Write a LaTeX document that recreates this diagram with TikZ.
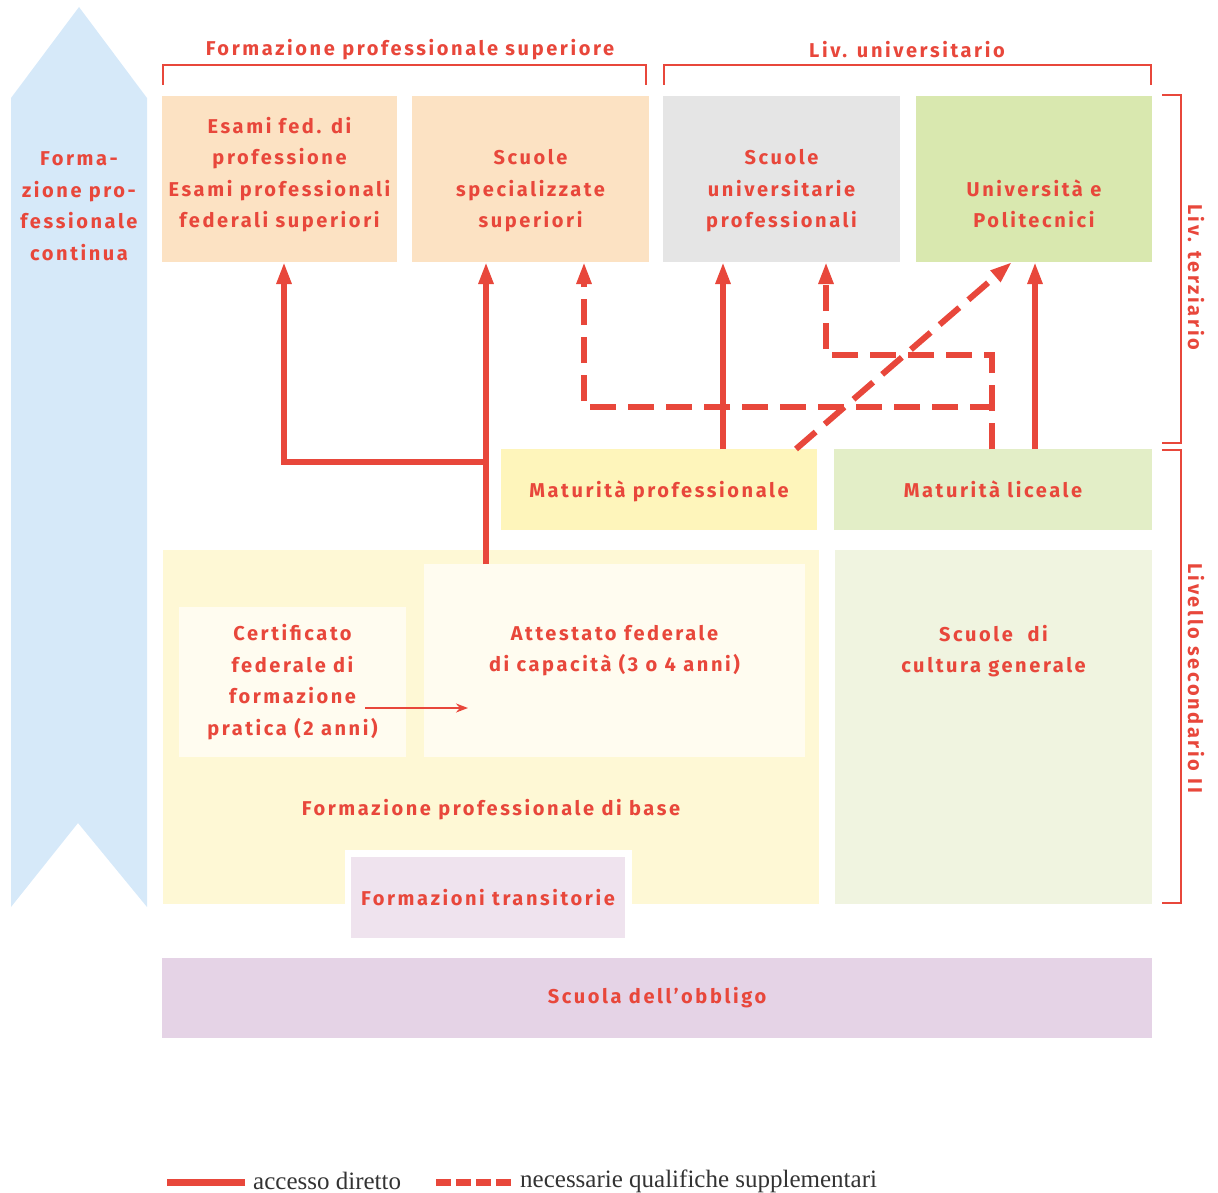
\documentclass[tikz,border=0pt]{standalone}
\usepackage{fontspec}
\setmainfont{Fira Sans}[LetterSpace=13]
\newfontfamily\legendfont{Liberation Serif}
\usetikzlibrary{positioning, arrows.meta}

\definecolor{linered}{HTML}{E8473B}
\definecolor{arrowblue}{HTML}{D6E9F9}
\definecolor{peach}{HTML}{FCE2C3}
\definecolor{unigray}{HTML}{E5E5E5}
\definecolor{unigreen}{HTML}{D9E8AF}
\definecolor{matyellow}{HTML}{FEF5BB}
\definecolor{matgreen}{HTML}{E3EEC7}
\definecolor{baseyellow}{HTML}{FEF8D5}
\definecolor{cream}{HTML}{FFFCF0}
\definecolor{palegreen}{HTML}{F0F4E0}
\definecolor{transpink}{HTML}{EFE3EE}
\definecolor{obbligo}{HTML}{E5D3E6}

\begin{document}
\begin{tikzpicture}
	[x=1pt, y=-1pt,
	 box/.style={inner sep=0pt, outer sep=0pt, anchor=north west, text=linered,
	   font=\bfseries\fontsize{20}{31.5}\selectfont, align=center},
	 lbl/.style={text=linered, font=\bfseries\fontsize{20}{31.5}\selectfont,
	   align=center, inner sep=0pt},
	 direct/.style={draw=linered, line width=6pt, -{Triangle[length=22pt,width=14pt]}},
	 extra/.style={direct, dash pattern=on 26pt off 12pt},
	 bracket/.style={draw=linered, line width=1.5pt}]
   \useasboundingbox (0,0) rectangle (1218,1193);
   \fill[arrowblue] (79,7) -- (147,98) -- (147,907) -- (78,823) -- (11,907) -- (11,98) -- cycle;
   \node[lbl] (contin) at (79,206) {Forma-\\zione pro-\\fessionale\\continua};

   \draw[bracket] (163,85) -- (163,65) -- (646,65) -- (646,85);
   \draw[bracket] (664,85) -- (664,65) -- (1151,65) -- (1151,85);
   \node[lbl] (fps) at (410,50) {Formazione professionale superiore};
   \node[lbl] (univ) at (907,50) {Liv. universitario};
   \draw[bracket] (1162,95) -- (1181,95) -- (1181,443) -- (1162,443);
   \draw[bracket] (1162,450) -- (1181,450) -- (1181,903) -- (1162,903);
   \node[lbl, rotate=-90] (terz) at (1196,277) {Liv. terziario};
   \node[lbl, rotate=-90] (sec) at (1196,678) {Livello secondario II};

   \node[box, fill=peach, minimum width=235pt, minimum height=166pt] (esami) at (162,96) {};
   \node[box, fill=peach, minimum width=237pt, minimum height=166pt] (spec) at (412,96) {};
   \node[box, fill=unigray, minimum width=237pt, minimum height=166pt] (sup) at (663,96) {};
   \node[box, fill=unigreen, minimum width=236pt, minimum height=166pt] (uni) at (916,96) {};
   \node[lbl, text depth=5pt, above=29pt of esami.south] (esamitxt) {Esami fed. di\\professione\\Esami professionali\\federali superiori};
   \node[lbl, text depth=5pt, above=29pt of spec.south] (spectxt) {Scuole\\specializzate\\superiori};
   \node[lbl, text depth=5pt, above=29pt of sup.south] (suptxt) {Scuole\\universitarie\\professionali};
   \node[lbl, text depth=5pt, above=29pt of uni.south] (unitxt) {Università e\\Politecnici};

   \node[box, fill=matyellow, minimum width=316pt, minimum height=81pt, text depth=1pt] (matprof) at (501,449) {Maturità professionale};
   \node[box, fill=matgreen, minimum width=318pt, minimum height=81pt, text depth=1pt] (matlic) at (834,449) {Maturità liceale};

   \node[box, fill=baseyellow, minimum width=656pt, minimum height=354pt] (base) at (163,550) {};
   \node[box, fill=cream, minimum width=381pt, minimum height=193pt] (attestato) at (424,564) {};
   \node[lbl, below=61pt of attestato.north] (attxt) {Attestato federale\\di capacità (3 o 4 anni)};
   \node[box, fill=cream, minimum width=227pt, minimum height=150pt] (cert) at (179,607) {Certificato\\federale di\\formazione\\pratica (2 anni)};
   \node[lbl] (basetxt) at ([shift={(0,-94)}]base.south) {Formazione professionale di base};
   \node[box, fill=palegreen, minimum width=317pt, minimum height=354pt] (cultura) at (835,550) {};
   \node[lbl, below=75pt of cultura.north] (cultxt) {Scuole~ di\\cultura generale};
   \fill[white] (345,850) rectangle (632,904);
   \node[box, fill=transpink, minimum width=274pt, minimum height=81pt] (trans) at (351,857) {Formazioni transitorie};
   \node[box, fill=obbligo, minimum width=990pt, minimum height=80pt] (obbl) at (162,958) {Scuola dell'obbligo};

   \draw[direct] ([xshift=62pt]attestato.north west) -- ([xshift=74pt]spec.south west);
   \draw[direct] ([xshift=62pt]attestato.north west) -- ++(0,-102) -| ([xshift=122pt]esami.south west);
   \draw[direct] ([xshift=222pt]matprof.north west) -- ([xshift=60pt]sup.south west);
   \draw[direct] ([xshift=201pt]matlic.north west) -- ([xshift=119pt]uni.south west);
   \draw[extra] ([xshift=158pt]matlic.north west) -- ++(0,-42) -| ([xshift=172pt]spec.south west);
   \draw[extra] ([xshift=158pt]matlic.north west) -- ++(0,-94) -| ([xshift=163pt]sup.south west);
   \draw[extra] ([xshift=295pt]matprof.north west) -- ([xshift=96pt]uni.south west);
   \draw[draw=linered, line width=2pt, -{Stealth[length=12pt,width=9pt]}]
     ([shift={(-41,26)}]cert.east) -- ([shift={(44,47.5)}]attestato.west);

   \node[anchor=west, inner sep=0pt, font=\legendfont\fontsize{25}{25}\selectfont, text=black!80] (legdir) at (253,1181) {accesso diretto};
   \node[anchor=west, inner sep=0pt, font=\legendfont\fontsize{25}{25}\selectfont, text=black!80] (legsup) at (520,1181) {necessarie qualifiche supplementari};
   \draw[linered, line width=7pt] ([shift={(-8,1)}]legdir.west) -- ++(-78,0);
   \draw[linered, line width=7pt, dash pattern=on 15pt off 5pt] ([shift={(-84,1)}]legsup.west) -- ++(76,0);
\end{tikzpicture}
\end{document}
